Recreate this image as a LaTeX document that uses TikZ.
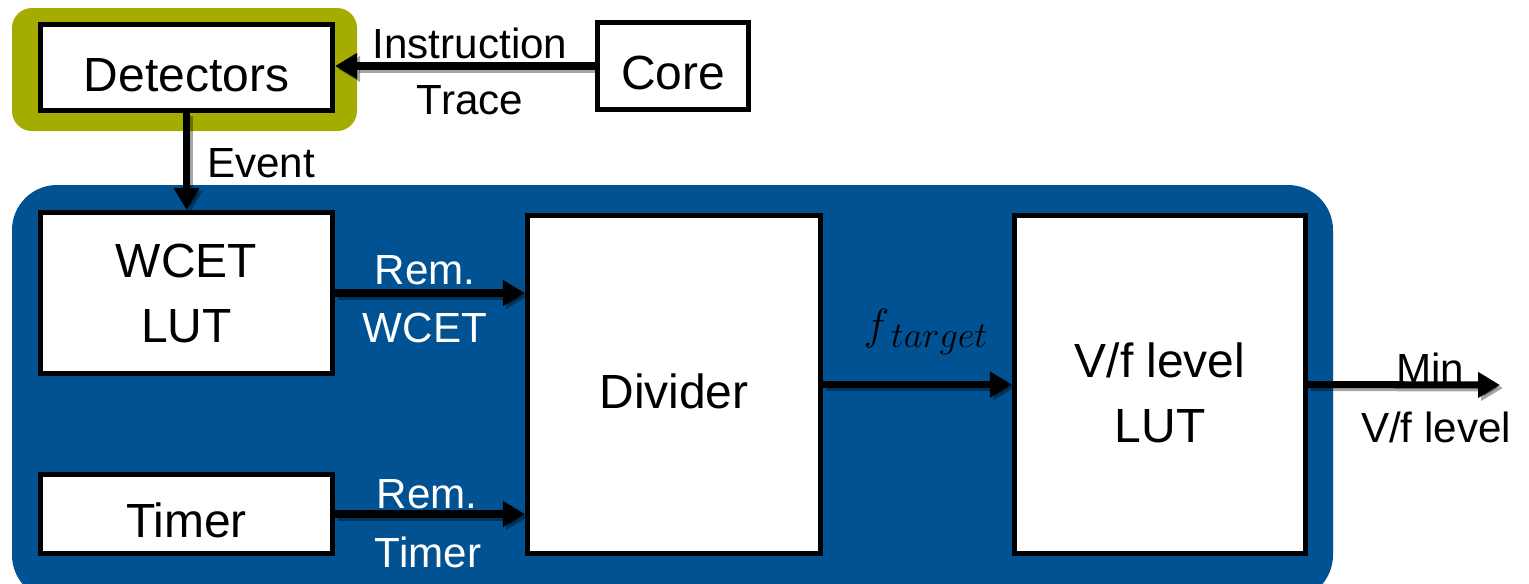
\documentclass[tikz,border=0pt]{standalone}
\usepackage{fontspec}
\setmainfont{Liberation Sans}
\usetikzlibrary{arrows.meta}
\definecolor{olivehl}{RGB}{165,172,0}
\definecolor{panelblue}{RGB}{0,82,147}
\tikzset{
  box/.style={draw=black, line width=3pt, fill=white, inner sep=0pt, align=center,
    font=\fontsize{27.3}{32}\selectfont},
  boxone/.style={box, text height=27.3pt, text depth=0pt},
  lbl/.style={inner sep=0pt, font=\fontsize{24}{29}\selectfont},
  wirestyle/.style={line width=4pt, -{Triangle[length=12.5pt,width=14pt]}},
  wireshade/.style={wirestyle, draw=black, fill=black, opacity=0.35,
    transform canvas={shift={(0.06cm,-0.06cm)}}},
}
% connector with a soft drop shadow
\newcommand\wire[2]{\draw[wireshade] #1 -- #2; \draw[wirestyle] #1 -- #2;}
\begin{document}
\begin{tikzpicture}[x=0.02cm,y=-0.02cm]
\useasboundingbox (0,0) rectangle (1529,583);

% highlight behind the detectors and the controller panel
\fill[olivehl, rounded corners=0.4cm] (12,8) rectangle (357,131);
\fill[panelblue, rounded corners=0.9cm] (12,185) rectangle (1333,600);

% blocks
\node[boxone, minimum width=5.84cm, minimum height=1.72cm] (det) at (186.5,67.5) {Detectors};
\node[boxone, minimum width=3.02cm, minimum height=1.74cm] (core) at (673,66) {Core};
\node[box, minimum width=5.84cm, minimum height=3.22cm] (wcet) at (186.5,293) {WCET\\[5pt]LUT};
\node[boxone, minimum width=5.84cm, minimum height=1.58cm] (timer) at (186.5,514) {Timer};
\node[boxone, minimum width=5.86cm, minimum height=6.76cm] (div) at (674,384.5) {Divider};
\node[box, text height=66pt, text depth=0pt, minimum width=5.82cm, minimum height=6.76cm]
  (vf) at (1160,384.5) {V/f level\\[5pt]LUT};
\coordinate (out) at (1500,385);

% connectors
\wire{(core.west)}{(core.west -| det.east)}
\wire{(det.south)}{(wcet.north)}
\wire{(wcet.east)}{(wcet.east -| div.west)}
\wire{(timer.east)}{(timer.east -| div.west)}
\wire{(div.east)}{(vf.west)}
\wire{(vf.east)}{(out)}

% connector labels
\node[lbl] (instr) at (470,43) {Instruction};
\node[lbl] (trace) at (470,100) {Trace};
\node[lbl] (event) at (261,163) {Event};
\node[lbl, text=white] (remw1) at (425,270) {Rem.};
\node[lbl, text=white] (remw2) at (425,328) {WCET};
\node[lbl, text=white] (remt1) at (427,494) {Rem.};
\node[lbl, text=white] (remt2) at (428,552) {Timer};
\node[inner sep=0pt, font=\fontsize{28}{33}\selectfont] (ft) at (926,332) {$f_{\,target}$};
\node[lbl] (min) at (1430,368) {Min};
\node[lbl] (vfl) at (1436,427) {V/f level};
\end{tikzpicture}
\end{document}
